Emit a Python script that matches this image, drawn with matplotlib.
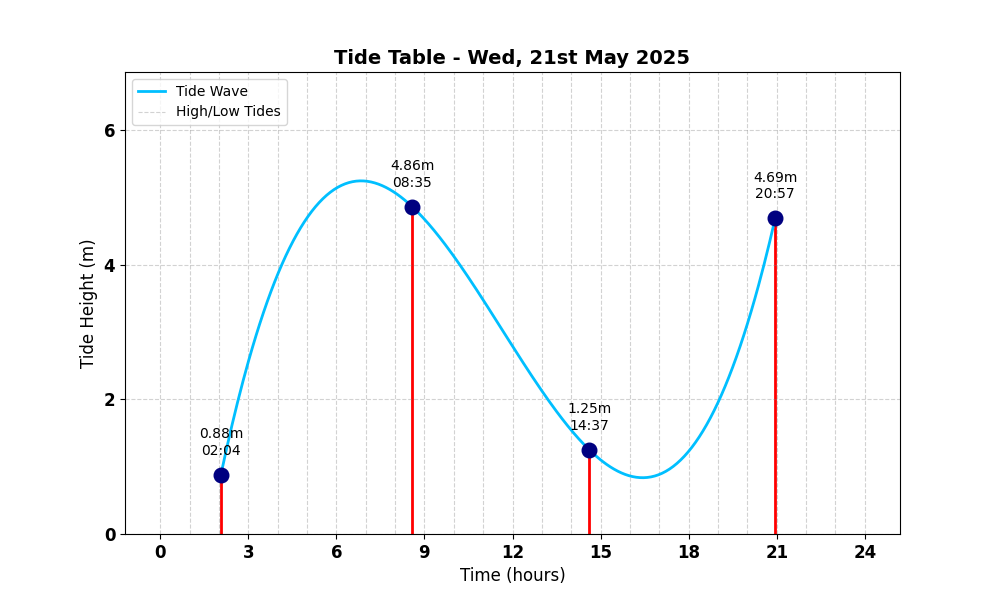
import numpy as np
import matplotlib
matplotlib.use("Agg")
import matplotlib.pyplot as plt

tide_times = ["02:04", "08:35", "14:37", "20:57"]
tide_heights = [0.88, 4.86, 1.25, 4.69]

# Convert HH:MM to decimal hours
tide_hours = np.array([int(t[:2]) + int(t[3:]) / 60 for t in tide_times])
heights = np.array(tide_heights)

# Smooth cubic through the tide points
coef = np.polyfit(tide_hours, heights, 3)
xs = np.linspace(tide_hours[0], tide_hours[-1], 300)
ys = np.polyval(coef, xs)

fig, ax = plt.subplots(figsize=(10, 6), dpi=100)

# Hourly guide lines
for h in range(25):
    ax.axvline(h, color="gray", alpha=0.35, linestyle="--", linewidth=0.8,
               label="High/Low Tides" if h == 0 else None, zorder=0)

ax.plot(xs, ys, color="deepskyblue", linewidth=2, label="Tide Wave", zorder=2)
ax.vlines(tide_hours, 0, heights, color="red", linewidth=2, zorder=1)
ax.scatter(tide_hours, heights, s=110, color="navy", zorder=3)

for x, y, t in zip(tide_hours, heights, tide_times):
    ax.text(x, y + 0.255, f"{y:.2f}m\n{t}", ha="center", va="bottom", fontsize=10)

ax.set_xlim(-1.2, 25.2)
ax.set_ylim(0, 6.86)
ax.set_xticks(np.arange(0, 25, 3))
ax.set_yticks([0, 2, 4, 6])
ax.grid(True, axis="y", linestyle="--", color="gray", alpha=0.35, linewidth=0.8)
ax.tick_params(labelsize=12)
for lbl in ax.get_xticklabels() + ax.get_yticklabels():
    lbl.set_fontweight("bold")

ax.set_title("Tide Table - Wed, 21st May 2025", fontsize=14, fontweight="bold")
ax.set_xlabel("Time (hours)", fontsize=12)
ax.set_ylabel("Tide Height (m)", fontsize=12)

handles, labels = ax.get_legend_handles_labels()
order = [labels.index("Tide Wave"), labels.index("High/Low Tides")]
ax.legend([handles[i] for i in order], [labels[i] for i in order], loc="upper left")

plt.savefig("out.png")
